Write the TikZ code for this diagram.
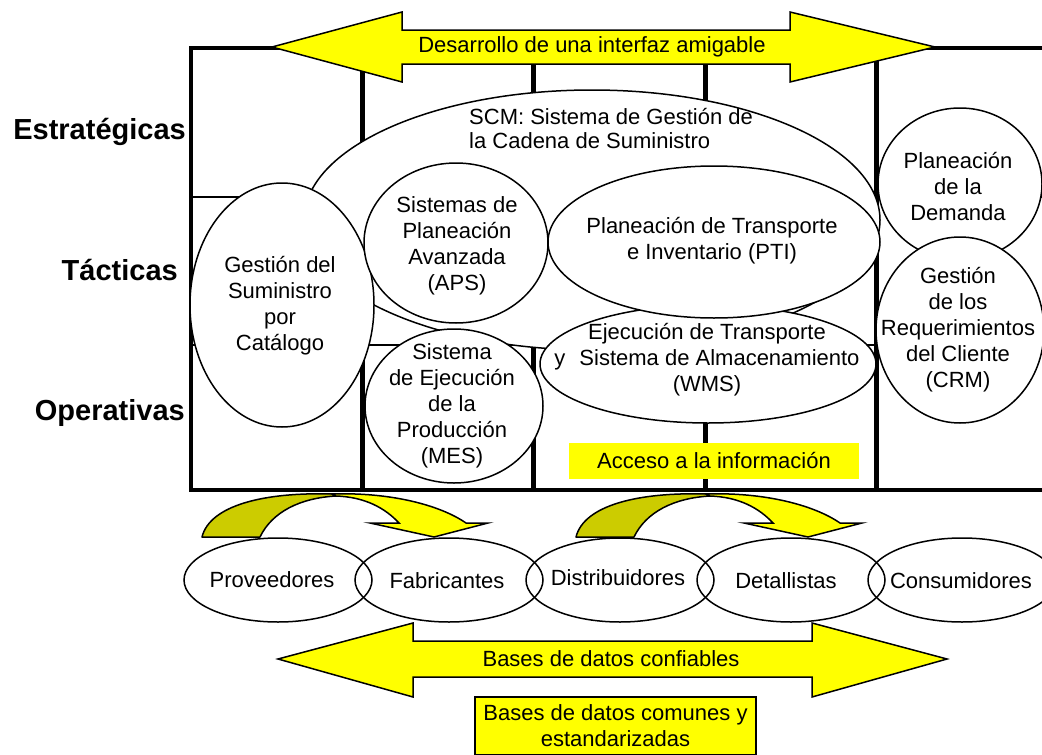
\documentclass[tikz,border=0pt]{standalone}
\usepackage{fontspec}
\setmainfont{Liberation Sans}
\usetikzlibrary{shapes.geometric}
\definecolor{yel}{RGB}{255,255,0}
\definecolor{olv}{RGB}{204,204,0}
\begin{document}
\begin{tikzpicture}[x=1pt,y=-1pt,
  frameline/.style={line width=4pt},
  divline/.style={line width=5pt},
  rowline/.style={line width=1.5pt},
  ell/.style={ellipse, draw=black, line width=1.5pt, fill=white, inner sep=0pt, outer sep=0pt},
  bell/.style={ellipse, draw=black, line width=1.5pt, inner sep=0pt, outer sep=0pt, minimum width=188, minimum height=84},
  txt/.style={font=\fontsize{22}{26}\selectfont, align=center, inner sep=0pt},
  lvl/.style={font=\bfseries\fontsize{29}{32}\selectfont, anchor=east, inner sep=0pt},
  yarrow/.style={fill=yel, draw=black, line width=1.5pt, line join=miter},
  oarrow/.style={fill=olv, draw=black, line width=1.5pt, line join=round},
  ybox/.style={fill=yel, inner sep=0pt, font=\fontsize{22}{26}\selectfont, align=center},
]
\useasboundingbox (0,0) rectangle (1042,755);
\clip (0,0) rectangle (1042,755);
\fill[white] (0,0) rectangle (1042,755);

% frame and grid
\draw[frameline] (191,48) -- (1050,48);
\draw[frameline] (189,490) -- (1050,490);
\draw[frameline] (191,46) -- (191,492);
\foreach \xx in {362,533,705,876} \draw[divline] (\xx,48) -- (\xx,490);
\draw[rowline] (191,197) -- (1042,197);
\draw[rowline] (191,345) -- (1042,345);

% ellipses
\node[ell, minimum width=576, minimum height=260] (scm) at (592,220) {};
\node[ell, minimum width=164, minimum height=152] (dem) at (960,184) {};
\node[ell, minimum width=168, minimum height=186] (crm) at (960,330) {};
\node[ell, minimum width=184, minimum height=244] (cat) at (282,305) {};
\node[ell, minimum width=184, minimum height=160] (aps) at (456,243) {};
\node[ell, minimum width=336, minimum height=118] (wms) at (708,364) {};
\node[ell, minimum width=332, minimum height=152] (pti) at (714,242) {};
\node[ell, minimum width=178, minimum height=154] (mes) at (454,406) {};

\node[txt, anchor=west, align=left, font=\fontsize{22}{24}\selectfont] (tscm) at (469,129) {SCM: Sistema de Gestión de\\la Cadena de Suministro};
\node[txt] (tcat) at (280,306) {Gestión del\\Suministro\\por\\Catálogo};
\node[txt] (taps) at (457,246) {Sistemas de\\Planeación\\Avanzada\\(APS)};
\node[txt] (tpti) at (712,241) {Planeación de Transporte\\e Inventario (PTI)};
\node[txt] (twms) at (707,360) {Ejecución de Transporte\\y\hspace{14pt}Sistema de Almacenamiento\\(WMS)};
\node[txt] (tmes) at (452,406) {Sistema\\de Ejecución\\de la\\Producción\\(MES)};
\node[txt] (tdem) at (958,187) {Planeación\\de la\\Demanda};
\node[txt] (tcrm) at (958,330) {Gestión\\de los\\Requerimientos\\del Cliente\\(CRM)};

\node[ybox, minimum width=290, minimum height=36] (acc) at (714,461) {Acceso a la información};

% top double arrow
\draw[yarrow] (272,47) -- (402,12) -- (402,30) -- (790,30) -- (790,12) -- (935,47) -- (790,82) -- (790,64) -- (402,64) -- (402,82) -- cycle;
\node[txt] (tarrow) at (592,47) {Desarrollo de una interfaz amigable};

% level labels
\node[lvl] (lst) at (186,132) {Estratégicas};
\node[lvl] (ltac) at (178,270) {Tácticas};
\node[lvl] (lop) at (185,413) {Operativas};

% curved arrows
\foreach \s in {0,374} {
  \begin{scope}[shift={(\s,0)}]
    \draw[oarrow] (202,537) .. controls (210,505) and (265,492) .. (332,494)
      -- (336,496) .. controls (300,498) and (272,512) .. (260,537) -- cycle;
    \draw[yarrow] (332,494) .. controls (390,492) and (440,505) .. (466,523)
      -- (488,523) -- (434,537) -- (370,523) -- (399,523)
      .. controls (385,508) and (365,497) .. (336,496) -- cycle;
  \end{scope}
}

% actors
\node[bell] (prov) at (278,580) {};
\node[bell] (fab) at (449,580) {};
\node[bell] (dist) at (620,580) {};
\node[bell] (det) at (791,580) {};
\node[bell] (cons) at (962,580) {};
\node[txt] (tprov) at (272,580) {Proveedores};
\node[txt] (tfab) at (447,581) {Fabricantes};
\node[txt] (tdist) at (618,578) {Distribuidores};
\node[txt] (tdet) at (786,581) {Detallistas};
\node[txt] (tcons) at (961,581) {Consumidores};

% bottom double arrow
\draw[yarrow] (278,659) -- (413,623) -- (413,641) -- (812,641) -- (812,623) -- (947,659) -- (812,697) -- (812,677) -- (413,677) -- (413,697) -- cycle;
\node[txt] (tbase) at (611,659) {Bases de datos confiables};

\node[ybox, draw=black, line width=1.5pt, minimum width=281, minimum height=58] (bdc) at (615.5,726) {Bases de datos comunes y\\estandarizadas};
\end{tikzpicture}
\end{document}
